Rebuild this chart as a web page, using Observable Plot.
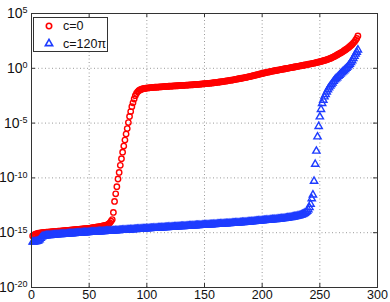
<!DOCTYPE html>
<html><head><meta charset="utf-8">
<script src="https://cdn.jsdelivr.net/npm/d3@7"></script>
<script src="https://cdn.jsdelivr.net/npm/@observablehq/plot@0.6"></script>
<style>
html,body{margin:0;padding:0;background:#fff;}
#chart{width:390px;height:302px;}
</style></head><body><div id="chart"></div>
<script>
const seriesNames = ["c=0", "c=120\u03c0"];
const seriesColors = ["#ff0000", "#1e3cff"];
const xTicks = [0, 50, 100, 150, 200, 250, 300];
const yTicks = [1e-20, 1e-15, 1e-10, 1e-5, 1e0, 1e5];
const yTickExponents = ["-20", "-15", "-10", "-5", "0", "5"];

// log10 of the values, index 1..283
const c0Log10 = [
-15.30,-15.22,-15.16,-15.12,-15.08,-15.05,-15.03,-15.01,-15.00,-14.99,
-14.98,-14.97,-14.96,-14.95,-14.94,-14.93,-14.92,-14.91,-14.90,-14.89,
-14.88,-14.87,-14.86,-14.86,-14.85,-14.84,-14.83,-14.82,-14.81,-14.80,
-14.79,-14.78,-14.77,-14.76,-14.75,-14.74,-14.73,-14.72,-14.71,-14.70,
-14.69,-14.68,-14.67,-14.66,-14.65,-14.64,-14.63,-14.62,-14.61,-14.60,
-14.58,-14.57,-14.55,-14.54,-14.52,-14.50,-14.48,-14.46,-14.44,-14.42,
-14.40,-14.38,-14.36,-14.33,-14.30,-14.26,-14.20,-14.10,-13.95,-13.80,
-13.15,-12.15,-11.45,-10.80,-10.10,-9.50,-8.85,-8.25,-7.65,-7.10,
-6.55,-6.00,-5.50,-4.95,-4.40,-3.95,-3.50,-3.15,-2.80,-2.50,
-2.30,-2.15,-2.05,-1.98,-1.93,-1.89,-1.86,-1.84,-1.82,-1.80,
-1.79,-1.78,-1.77,-1.76,-1.75,-1.74,-1.73,-1.73,-1.72,-1.71,
-1.70,-1.69,-1.69,-1.68,-1.67,-1.66,-1.66,-1.65,-1.64,-1.63,
-1.63,-1.62,-1.61,-1.61,-1.60,-1.59,-1.59,-1.58,-1.57,-1.56,
-1.56,-1.55,-1.55,-1.54,-1.53,-1.53,-1.52,-1.51,-1.51,-1.50,
-1.49,-1.48,-1.48,-1.47,-1.46,-1.45,-1.44,-1.43,-1.42,-1.41,
-1.40,-1.39,-1.38,-1.37,-1.36,-1.35,-1.33,-1.32,-1.31,-1.30,
-1.28,-1.27,-1.25,-1.24,-1.22,-1.21,-1.19,-1.17,-1.16,-1.14,
-1.12,-1.10,-1.08,-1.07,-1.05,-1.03,-1.01,-0.99,-0.97,-0.95,
-0.93,-0.91,-0.89,-0.87,-0.85,-0.83,-0.80,-0.78,-0.76,-0.73,
-0.71,-0.68,-0.66,-0.63,-0.60,-0.58,-0.55,-0.52,-0.50,-0.47,
-0.45,-0.42,-0.40,-0.37,-0.35,-0.33,-0.30,-0.28,-0.26,-0.24,
-0.22,-0.20,-0.18,-0.16,-0.14,-0.12,-0.10,-0.08,-0.06,-0.04,
-0.02,0.00,0.02,0.04,0.06,0.08,0.10,0.12,0.14,0.16,
0.18,0.20,0.22,0.24,0.26,0.28,0.30,0.32,0.34,0.37,
0.39,0.41,0.43,0.45,0.47,0.50,0.52,0.55,0.57,0.60,
0.63,0.66,0.69,0.72,0.75,0.78,0.82,0.86,0.90,0.95,
1.00,1.05,1.10,1.16,1.22,1.28,1.34,1.40,1.46,1.53,
1.60,1.67,1.74,1.82,1.90,1.99,2.08,2.18,2.30,2.42,
2.56,2.72,2.95
];

const c120piLog10 = [
-15.85,-15.85,-15.82,-15.80,-15.78,-15.74,-15.65,-15.50,-15.38,-15.32,
-15.30,-15.28,-15.27,-15.26,-15.25,-15.24,-15.23,-15.22,-15.21,-15.20,
-15.19,-15.18,-15.17,-15.17,-15.16,-15.15,-15.14,-15.13,-15.12,-15.12,
-15.11,-15.10,-15.09,-15.08,-15.08,-15.07,-15.06,-15.05,-15.05,-15.04,
-15.03,-15.02,-15.02,-15.01,-15.00,-14.99,-14.99,-14.98,-14.97,-14.96,
-14.96,-14.95,-14.94,-14.94,-14.93,-14.92,-14.92,-14.91,-14.90,-14.90,
-14.89,-14.88,-14.88,-14.87,-14.86,-14.86,-14.85,-14.84,-14.84,-14.83,
-14.82,-14.82,-14.81,-14.80,-14.80,-14.79,-14.78,-14.78,-14.77,-14.76,
-14.76,-14.75,-14.74,-14.74,-14.73,-14.72,-14.72,-14.71,-14.70,-14.70,
-14.69,-14.68,-14.68,-14.67,-14.66,-14.66,-14.65,-14.64,-14.64,-14.63,
-14.62,-14.62,-14.61,-14.60,-14.60,-14.59,-14.58,-14.58,-14.57,-14.56,
-14.56,-14.55,-14.54,-14.54,-14.53,-14.52,-14.52,-14.51,-14.50,-14.50,
-14.49,-14.48,-14.48,-14.47,-14.46,-14.46,-14.45,-14.44,-14.44,-14.43,
-14.42,-14.42,-14.41,-14.40,-14.40,-14.39,-14.38,-14.38,-14.37,-14.36,
-14.36,-14.35,-14.34,-14.34,-14.33,-14.32,-14.32,-14.31,-14.30,-14.30,
-14.29,-14.28,-14.28,-14.27,-14.26,-14.26,-14.25,-14.24,-14.24,-14.23,
-14.22,-14.22,-14.21,-14.20,-14.20,-14.19,-14.18,-14.18,-14.17,-14.16,
-14.16,-14.15,-14.14,-14.13,-14.13,-14.12,-14.11,-14.10,-14.10,-14.09,
-14.08,-14.07,-14.06,-14.06,-14.05,-14.04,-14.03,-14.02,-14.01,-14.00,
-13.99,-13.98,-13.97,-13.96,-13.95,-13.94,-13.93,-13.92,-13.91,-13.90,
-13.89,-13.88,-13.87,-13.86,-13.85,-13.84,-13.83,-13.82,-13.81,-13.80,
-13.79,-13.78,-13.77,-13.76,-13.75,-13.74,-13.72,-13.71,-13.70,-13.68,
-13.67,-13.65,-13.64,-13.62,-13.60,-13.58,-13.56,-13.54,-13.52,-13.50,
-13.47,-13.44,-13.41,-13.37,-13.33,-13.28,-13.22,-13.14,-13.04,-12.90,
-12.70,-12.40,-11.90,-11.55,-10.30,-8.75,-7.55,-6.25,-5.30,-4.42,
-3.75,-3.20,-2.90,-2.60,-2.38,-2.15,-1.95,-1.78,-1.62,-1.48,
-1.33,-1.18,-1.05,-0.95,-0.85,-0.73,-0.62,-0.51,-0.41,-0.31,
-0.21,-0.10,0.00,0.12,0.25,0.38,0.53,0.70,0.90,1.10,
1.30,1.48,1.68
];

const rowsC0 = c0Log10.map((e, i) => ({x: i + 1, y: Math.pow(10, e)}));
const rowsC120 = c120piLog10.map((e, i) => ({x: i + 1, y: Math.pow(10, e)}));

const innerH = 302 - 13 - 15;
const innerW = 390 - 31 - 13;
const tickLen = 4;
const gridStyle = {stroke: "#9a9a9a", strokeOpacity: 1, strokeWidth: 1, strokeDasharray: "1,2.5"};
const axisColor = "#333";
const rDot = 2.7, rTri = 2.7;

const chart = Plot.plot({
  width: 390, height: 302,
  marginLeft: 31, marginRight: 13, marginTop: 13, marginBottom: 15,
  style: {fontFamily: "'Liberation Sans', Arial, Helvetica, sans-serif", fontSize: "12.5px", background: "#fff", color: "#111"},
  x: {domain: [0, 300], ticks: xTicks, tickSize: 0, tickPadding: 3, tickFormat: d => String(d), label: null},
  y: {type: "log", domain: [1e-20, 1e5], ticks: yTicks, tickSize: 0, tickPadding: 4,
      tickFormat: d => "10" + yTickExponents[yTicks.indexOf(d)], label: null},
  marks: [
    Plot.gridX(xTicks, gridStyle),
    Plot.gridY(yTicks, gridStyle),
    Plot.ruleX(xTicks, {stroke: axisColor, insetTop: innerH - tickLen}),
    Plot.ruleX(xTicks, {stroke: axisColor, insetBottom: innerH - tickLen}),
    Plot.ruleY(yTicks, {stroke: axisColor, insetRight: innerW - tickLen}),
    Plot.ruleY(yTicks, {stroke: axisColor, insetLeft: innerW - tickLen}),
    Plot.dot(rowsC0, {x: "x", y: "y", r: rDot, stroke: seriesColors[0], strokeWidth: 1.4, fill: "none"}),
    Plot.dot(rowsC120, {x: "x", y: "y", symbol: "triangle", r: rTri, stroke: seriesColors[1], strokeWidth: 1.4, fill: "none"}),
    Plot.frame({stroke: axisColor, strokeWidth: 1})
  ]
});
document.getElementById("chart").appendChild(chart);

// superscript exponents on y tick labels
const svg = d3.select(chart);
svg.selectAll("g[aria-label='y-axis tick label'] text").each(function() {
  const t = d3.select(this);
  const exp = t.text().slice(2);
  t.text("10").attr("font-size", "14px");
  t.append("tspan").attr("dy", "-0.5em").attr("font-size", "9px").text(exp);
});

// legend inside the plot
const lg = svg.append("g")
  .attr("font-family", "'Liberation Sans', Arial, sans-serif")
  .attr("font-size", "12.5px")
  .attr("text-anchor", "start");
lg.append("rect").attr("x", 33.5).attr("y", 17.5).attr("width", 74).attr("height", 34)
  .attr("fill", "#fff").attr("stroke", axisColor).attr("stroke-width", 1);
lg.append("circle").attr("cx", 49).attr("cy", 26).attr("r", rDot)
  .attr("fill", "none").attr("stroke", seriesColors[0]).attr("stroke-width", 1.6);
lg.append("path").attr("transform", "translate(49,43.5)")
  .attr("d", d3.symbol(d3.symbolTriangle, Math.PI * rTri * rTri)())
  .attr("fill", "none").attr("stroke", seriesColors[1]).attr("stroke-width", 1.6);
lg.append("text").attr("x", 63).attr("y", 26).attr("dy", "0.35em").attr("text-anchor", "start").attr("fill", "#111").text(seriesNames[0]);
lg.append("text").attr("x", 63).attr("y", 43.5).attr("dy", "0.35em").attr("text-anchor", "start").attr("fill", "#111").text(seriesNames[1]);
</script>
</body></html>
